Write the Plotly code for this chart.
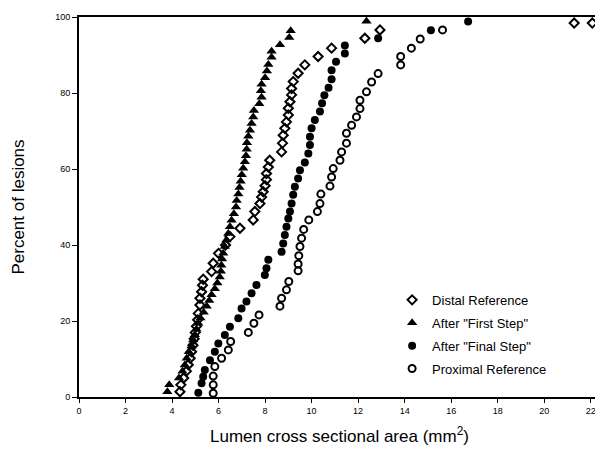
import plotly.graph_objects as go

# Distal Reference (open diamonds)
distal_x = [4.34, 4.38, 4.50, 4.62, 4.70, 4.78, 4.84, 4.90, 4.95, 5.00, 5.05, 5.10, 5.13, 5.20, 5.20,
            5.27, 5.31, 5.34, 5.70, 5.77, 6.00, 6.30, 6.49, 6.92, 7.49, 7.56, 7.78, 7.85, 7.92, 8.00,
            8.06, 8.06, 8.14, 8.20, 8.71, 8.75, 8.78, 8.85, 8.92, 9.00, 9.00, 9.07, 9.14, 9.14, 9.21,
            9.42, 9.71, 10.28, 10.86, 12.29, 12.94, 21.29, 22.07]
distal_y = [1.4, 3.2, 5.0, 6.8, 8.5, 10.2, 11.9, 13.6, 15.3, 17.0, 18.6, 20.3, 22.0, 24.2, 26.0,
            27.7, 29.4, 31.0, 33.0, 35.2, 37.8, 40.0, 42.2, 44.4, 46.6, 48.8, 50.9, 52.6, 54.0, 55.6,
            57.2, 58.8, 60.5, 62.3, 64.5, 66.8, 68.9, 70.7, 72.4, 74.2, 76.0, 77.7, 79.5, 81.2, 83.0,
            85.2, 87.4, 89.6, 91.8, 94.4, 96.6, 98.4, 98.4]

# After "First Step" (filled triangles)
first_x = [3.80, 3.88, 4.30, 4.45, 4.55, 4.63, 4.72, 4.84, 4.91, 4.98, 5.05, 5.13, 5.22, 5.36, 5.49,
           5.60, 5.70, 5.84, 5.95, 6.05, 6.10, 6.12, 6.15, 6.20, 6.27, 6.34, 6.42, 6.49, 6.56, 6.66,
           6.75, 6.78, 6.85, 6.90, 6.95, 7.00, 7.06, 7.13, 7.18, 7.21, 7.22, 7.28, 7.35, 7.42, 7.49,
           7.52, 7.75, 7.85, 7.82, 7.85, 8.00, 8.08, 8.14, 8.28, 8.28, 8.64, 9.04, 9.10, 12.36]
first_y = [1.4, 3.2, 5.0, 6.8, 8.4, 10.2, 11.9, 13.4, 15.0, 16.4, 17.8, 19.4, 20.8, 22.3, 23.9,
           25.4, 26.9, 28.5, 30.0, 31.6, 33.1, 34.7, 36.3, 37.8, 39.6, 41.3, 43.0, 44.8, 46.5, 48.2,
           50.0, 51.7, 53.4, 55.1, 56.8, 58.5, 60.2, 61.9, 63.5, 65.2, 66.9, 68.6, 70.2, 72.0, 73.7,
           75.4, 77.2, 78.9, 80.6, 82.3, 84.0, 85.8, 87.5, 89.4, 91.0, 92.7, 94.6, 96.4, 98.9]

# After "Final Step" (filled circles)
final_x = [5.13, 5.27, 5.34, 5.41, 5.63, 5.84, 5.99, 6.27, 6.49, 6.85, 6.99, 7.20, 7.42, 7.63, 7.99,
           8.06, 8.14, 8.71, 8.78, 8.85, 8.92, 9.00, 9.07, 9.14, 9.21, 9.28, 9.42, 9.50, 9.71, 9.86,
           9.93, 9.93, 10.00, 10.14, 10.36, 10.45, 10.55, 10.73, 10.86, 10.86, 11.05, 11.43, 11.43,
           12.86, 15.13, 16.73]
final_y = [1.1, 3.6, 5.3, 7.1, 9.7, 11.9, 14.1, 16.3, 18.5, 20.7, 23.3, 25.1, 27.3, 29.5, 32.1,
           33.9, 36.1, 38.2, 40.4, 42.6, 44.8, 47.0, 48.8, 50.9, 53.2, 55.3, 57.5, 59.7, 61.7, 64.1,
           66.3, 68.5, 70.7, 72.9, 75.1, 77.3, 79.4, 81.4, 83.6, 86.0, 88.2, 90.4, 92.5,
           94.4, 96.5, 98.8]

# Proximal Reference (open circles)
prox_x = [5.77, 5.77, 5.77, 5.84, 6.13, 6.42, 6.52, 7.28, 7.52, 7.74, 8.64, 8.71, 8.92, 9.02, 9.42,
          9.42, 9.45, 9.50, 9.57, 9.66, 9.88, 10.25, 10.36, 10.40, 10.79, 10.86, 10.93, 11.22, 11.29,
          11.50, 11.50, 11.72, 11.93, 12.08, 12.08, 12.36, 12.58, 12.86, 13.83, 13.83, 14.29, 14.67,
          15.63]
prox_y = [1.0, 3.2, 5.5, 8.0, 10.2, 12.4, 14.6, 17.0, 19.4, 21.6, 23.9, 26.0, 28.2, 30.4, 33.2,
          35.0, 37.2, 39.6, 41.8, 44.1, 46.6, 48.8, 50.9, 53.4, 55.5, 57.9, 60.1, 62.3, 64.5,
          66.8, 69.4, 71.5, 73.7, 75.9, 78.1, 80.3, 82.9, 85.1, 87.4, 89.6, 91.8, 94.2,
          96.6]

x_ticks = [0, 2, 4, 6, 8, 10, 12, 14, 16, 18, 20, 22]
y_ticks = [0, 20, 40, 60, 80, 100]

fig = go.Figure()
fig.add_trace(go.Scatter(x=distal_x, y=distal_y, mode="markers", name="Distal Reference",
                         legendgroup="a",
                         marker=dict(symbol="diamond-open", size=7, color="black",
                                     line=dict(width=2, color="black"))))
fig.add_trace(go.Scatter(x=first_x, y=first_y, mode="markers", name='After "First Step"',
                         legendgroup="b",
                         marker=dict(symbol="triangle-up", size=9, color="black")))
fig.add_trace(go.Scatter(x=final_x, y=final_y, mode="markers", name='After "Final Step"',
                         legendgroup="c",
                         marker=dict(symbol="circle", size=8, color="black")))
fig.add_trace(go.Scatter(x=prox_x, y=prox_y, mode="markers", name="Proximal Reference",
                         legendgroup="d",
                         marker=dict(symbol="circle-open", size=7, color="black",
                                     line=dict(width=2, color="black"))))

# The page body adds an 8px offset, so margins are reduced on the left/top accordingly
fig.update_layout(
    width=603, height=462,
    margin=dict(l=71, r=11, t=9, b=73, autoexpand=False),
    paper_bgcolor="white", plot_bgcolor="white",
    font=dict(family="Liberation Sans, Arial, sans-serif", color="black"),
    showlegend=True,
    legend=dict(x=0.601, y=0.295, xanchor="left", yanchor="top", tracegroupgap=3,
                bgcolor="rgba(0,0,0,0)", font=dict(size=13, color="black"),
                itemsizing="trace"),
    xaxis=dict(range=[0, 22.4], tickvals=x_ticks, ticktext=[str(v) for v in x_ticks],
               automargin=False,
               showgrid=False, zeroline=False, showline=True, linecolor="black", linewidth=2,
               mirror=True, ticks="outside", ticklen=4, tickcolor="black", tickwidth=1,
               tickfont=dict(size=9, color="black"),
               title=dict(text="Lumen cross sectional area (mm<sup>2</sup>)",
                          font=dict(size=17, color="black"), standoff=15)),
    yaxis=dict(range=[0, 100], tickvals=y_ticks, ticktext=[str(v) for v in y_ticks],
               automargin=False,
               showgrid=False, zeroline=False, showline=True, linecolor="black", linewidth=2,
               ticks="outside", ticklen=5, tickcolor="black", tickwidth=1,
               tickfont=dict(size=9, color="black"),
               title=dict(text="Percent of lesions", font=dict(size=17, color="black"),
                          standoff=26)),
)

fig.write_html("out.html")
